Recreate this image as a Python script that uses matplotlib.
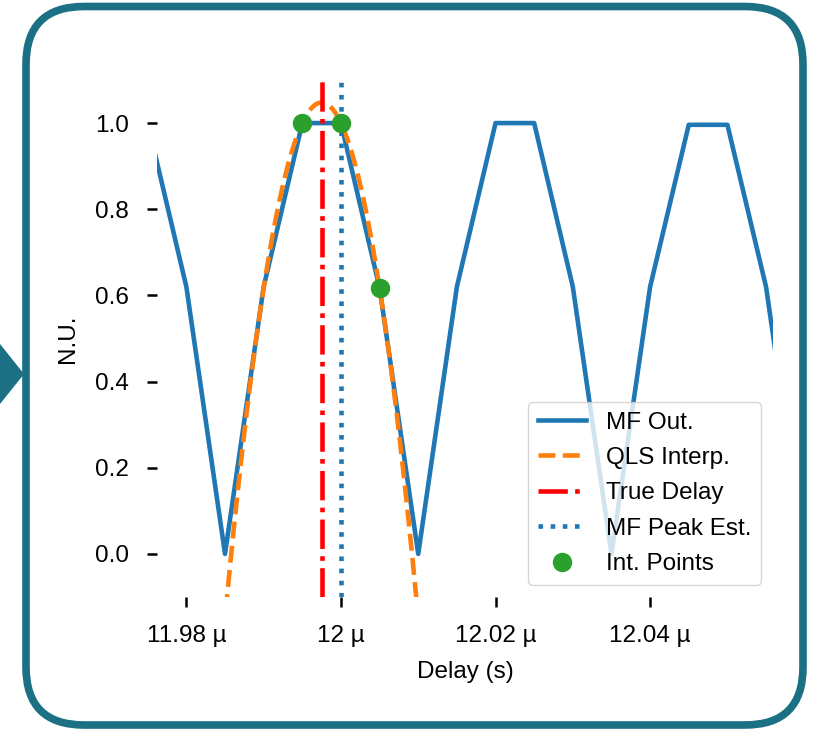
import numpy as np
import matplotlib
matplotlib.use("Agg")
import matplotlib.pyplot as plt
from matplotlib.ticker import EngFormatter
from matplotlib.patches import FancyBboxPatch, Polygon

## Data (delays in microseconds)
delay_us = [11.975, 11.980, 11.985, 11.990, 11.995, 12.000, 12.005, 12.010, 12.015,
            12.020, 12.025, 12.030, 12.035, 12.040, 12.045, 12.050, 12.055, 12.060]
mf_out = [1.0, 0.62, 0.0, 0.62, 1.0, 1.0, 0.617, 0.0, 0.62,
          1.0, 1.0, 0.62, 0.0, 0.62, 0.996, 0.996, 0.62, 0.0]

int_delay_us = [11.995, 12.000, 12.005]
int_values = [1.0, 1.0, 0.617]

true_delay_us = 11.9975
mf_peak_us = 12.000

xlim_us = (11.9762, 12.0559)
teal = "#1b7083"

plt.rcParams["font.family"] = ["Liberation Sans", "DejaVu Sans"]
plt.rcParams["font.size"] = 17.5

to_s = lambda v: np.asarray(v) * 1e-6

fig = plt.figure(figsize=(8.18, 7.31), dpi=100)

# frame drawn in pixel units
bg = fig.add_axes([0, 0, 1, 1], zorder=-1)
bg.set_xlim(0, 818)
bg.set_ylim(731, 0)
bg.axis("off")
bg.add_patch(FancyBboxPatch((26, 6.5), 777, 718.5, boxstyle="round,pad=0,rounding_size=58",
                            fill=False, ec=teal, lw=5.5))
bg.add_patch(Polygon([[-4, 339], [24, 374], [-4, 409]], closed=True, fc=teal, ec="none"))

ax = fig.add_axes([157 / 818, (731 - 597) / 731, (773 - 157) / 818, (597 - 80) / 731])

lw = 3.3
ax.plot(to_s(delay_us), mf_out, color="C0", lw=lw, label="MF Out.")

# quadratic least squares through the interpolation points
coef = np.polyfit(to_s(int_delay_us) - to_s(mf_peak_us), int_values, 2)
xq = np.linspace(to_s(xlim_us[0]), to_s(xlim_us[1]), 800)
ax.plot(xq, np.polyval(coef, xq - to_s(mf_peak_us)), color="C1", ls="--", lw=lw, label="QLS Interp.")

ax.axvline(to_s(true_delay_us), color="red", ls="-.", lw=lw, label="True Delay")
ax.axvline(to_s(mf_peak_us), color="C0", ls=":", lw=lw, label="MF Peak Est.")
ax.plot(to_s(int_delay_us), int_values, "o", color="C2", ms=13, label="Int. Points", zorder=5)

ax.set_xlim(to_s(xlim_us))
ax.set_ylim(-0.1, 1.1)
ax.set_xticks(to_s([11.98, 12.00, 12.02, 12.04]))
ax.set_yticks([0.0, 0.2, 0.4, 0.6, 0.8, 1.0])
ax.xaxis.set_major_formatter(EngFormatter())
ax.tick_params(direction="out", length=7, width=1.8, pad=13)

for s in ax.spines.values():
    s.set_visible(False)

ax.set_xlabel("Delay (s)", labelpad=10)
ax.set_ylabel("N.U.", labelpad=12)

ax.legend(loc="lower right", labelspacing=0.55)

fig.savefig("out.png", dpi=100)
